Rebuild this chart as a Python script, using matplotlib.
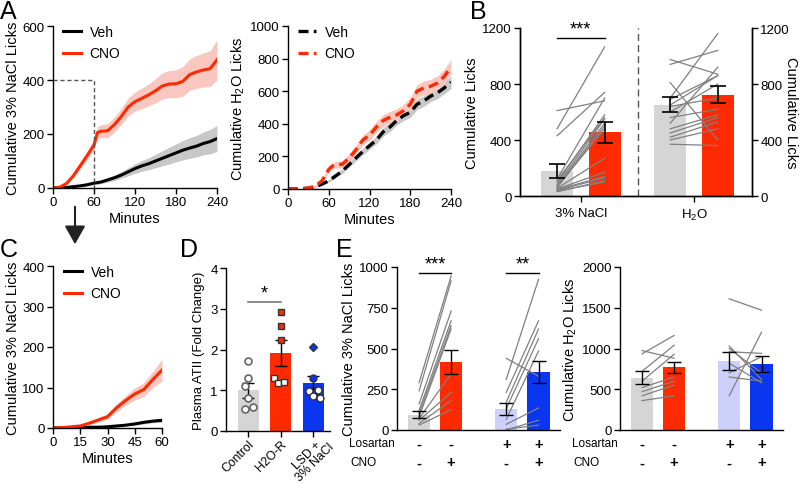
import matplotlib
matplotlib.use("Agg")
import matplotlib.pyplot as plt
import matplotlib.transforms as mtransforms
import numpy as np

plt.rcParams['font.family'] = ['Liberation Sans', 'DejaVu Sans']
plt.rcParams['mathtext.default'] = 'regular'
plt.rcParams['font.size'] = 9.5
plt.rcParams['axes.linewidth'] = 1.0
plt.rcParams['xtick.major.width'] = 1.0
plt.rcParams['ytick.major.width'] = 1.0
plt.rcParams['xtick.major.size'] = 4
plt.rcParams['ytick.major.size'] = 4

RED = '#FF2A00'
BLUE = '#0A36F2'
LBLUE = '#CDD0F8'
GRAY = '#D5D5D5'
LGRAY = '#808080'
TICK = 9.5
LAB = 10.5

# ---------------- data ----------------
# Panel A (cumulative licks, minutes)
t_a = [0, 10, 20, 30, 40, 50, 60, 65, 70, 80, 90, 100, 110, 120, 130, 140, 150,
       160, 170, 180, 190, 200, 210, 220, 230, 240]
nacl_cno = [0, 3, 17, 46, 83, 120, 160, 205, 210, 212, 235, 265, 300, 320, 332, 345,
            360, 378, 385, 386, 395, 420, 430, 437, 442, 475]
nacl_cno_sem = [0, 1, 4, 8, 11, 14, 18, 22, 24, 26, 28, 30, 33, 35, 38, 41, 45, 48,
                50, 52, 55, 58, 61, 63, 66, 75]
nacl_veh = [0, 0, 2, 5, 8, 12, 18, 20, 22, 30, 38, 48, 60, 72, 82, 90, 100, 110, 120,
            130, 140, 148, 155, 165, 172, 183]
nacl_veh_sem = [0, 0, 1, 2, 2, 3, 5, 6, 6, 8, 10, 12, 15, 18, 20, 22, 25, 28, 31, 33,
                36, 38, 40, 42, 45, 48]
h2o_cno = [0, 0, 2, 5, 18, 50, 120, 140, 148, 152, 190, 240, 300, 330, 380, 420, 440,
           455, 480, 520, 600, 620, 630, 650, 690, 750]
h2o_cno_sem = [0, 0, 1, 2, 5, 10, 18, 20, 20, 22, 25, 28, 30, 32, 34, 35, 36, 37, 38,
               40, 40, 42, 42, 44, 45, 45]
h2o_veh = [0, 0, 2, 5, 12, 30, 50, 65, 80, 110, 150, 190, 230, 265, 300, 350, 380, 420,
           450, 470, 520, 540, 570, 590, 620, 655]
h2o_veh_sem = [0, 0, 1, 2, 4, 6, 8, 10, 12, 14, 16, 18, 20, 22, 24, 26, 27, 28, 30, 31,
               32, 33, 34, 35, 36, 38]

# Panel B
b_means = {'nacl_veh': 178, 'nacl_cno': 457, 'h2o_veh': 652, 'h2o_cno': 724}
b_sem = {'nacl_veh': 48, 'nacl_cno': 75, 'h2o_veh': 52, 'h2o_cno': 60}
b_nacl_veh = [480, 610, 430, 120, 95, 80, 70, 60, 55, 50, 45, 40, 35, 30, 110, 65]
b_nacl_cno = [1065, 680, 740, 700, 580, 550, 520, 500, 270, 170, 140, 130, 100, 110, 560, 480]
b_h2o_veh = [975, 940, 700, 650, 600, 560, 480, 450, 420, 400, 370, 810, 520, 640, 690]
b_h2o_cno = [870, 1040, 1160, 860, 800, 620, 580, 560, 530, 480, 360, 400, 920, 700, 860]

# Panel C
t_c = [0, 5, 10, 15, 20, 25, 30, 35, 40, 45, 50, 55, 60]
c_cno = [0, 1, 3, 5, 12, 20, 28, 50, 68, 84, 95, 120, 143]
c_cno_sem = [0, 1, 1, 2, 3, 5, 7, 10, 12, 15, 17, 20, 27]
c_veh = [0, 0, 1, 1, 2, 2, 3, 5, 7, 10, 14, 17, 19]
c_veh_sem = [0, 0, 0, 0, 1, 1, 1, 1, 2, 3, 4, 4, 5]

# Panel D
d_groups = ['Control', 'H2O-R', 'LSD +\n3% NaCl']
d_means = [1.0, 1.91, 1.19]
d_sem = [0.18, 0.32, 0.17]
d_control = [1.72, 1.30, 1.10, 0.82, 0.58, 0.55]
d_h2or = [2.93, 2.58, 2.23, 1.31, 1.17, 1.21]
d_lsd = [2.06, 1.30, 1.01, 0.98, 0.85, 0.82]

# Panel E
e_nacl_means = [94, 418, 129, 355]
e_nacl_sem = [22, 72, 36, 66]
e_nacl_veh = [290, 240, 160, 120, 100, 80, 70, 60, 40, 30]
e_nacl_cno = [945, 915, 730, 670, 640, 620, 345, 230, 180, 125]
e_nacl_los_veh = [440, 310, 230, 170, 130, 65, 35, 5, 0]
e_nacl_los_cno = [330, 925, 670, 620, 560, 485, 135, 30, 60]
e_h2o_means = [640, 768, 850, 812]
e_h2o_sem = [78, 72, 110, 95]
e_h2o_veh = [975, 935, 720, 600, 520, 470, 420, 360]
e_h2o_cno = [880, 1160, 1040, 930, 650, 600, 550, 420]
e_h2o_los_veh = [1610, 1030, 1000, 960, 820, 650, 420, 700]
e_h2o_los_cno = [1470, 620, 700, 940, 580, 600, 1200, 900]
e_losartan = ['-', '-', '+', '+']
e_cno = ['-', '+', '-', '+']

# ---------------- figure ----------------
W, H = 800, 485
fig = plt.figure(figsize=(W / 100, H / 100), dpi=100)


def ax_px(l, t, r, b):
    return fig.add_axes([l / W, 1 - b / H, (r - l) / W, (b - t) / H])


def clean(ax, right=False):
    ax.spines['top'].set_visible(False)
    if not right:
        ax.spines['right'].set_visible(False)
    ax.tick_params(direction='out', length=4, pad=2, labelsize=TICK)


def panel_letter(x, y, s):
    fig.text(x / W, 1 - y / H, s, fontsize=18, va='top', ha='left')


def legend(ax, x0=0.02):
    ax.legend(loc='upper left', frameon=False, fontsize=10, handlelength=1.3,
              handletextpad=0.6, borderaxespad=0.1, bbox_to_anchor=(x0, 1.05),
              labelspacing=0.55)


# ---- Panel A left ----
axA1 = ax_px(53, 27, 217, 189)
clean(axA1)
ta = np.array(t_a)
for m, s, c, fc, lab in [(nacl_veh, nacl_veh_sem, 'black', '#C8C8C8', 'Veh'),
                         (nacl_cno, nacl_cno_sem, RED, '#F9C7C0', 'CNO')]:
    m = np.array(m); s = np.array(s)
    axA1.fill_between(ta, m - s, m + s, color=fc, lw=0)
    axA1.plot(ta, m, color=c, lw=2.2, label=lab)
axA1.plot([0, 60, 60], [400, 400, 0], ls=(0, (3, 2)), color='#555555', lw=1)
axA1.set_xlim(0, 240); axA1.set_ylim(0, 600)
axA1.set_xticks([0, 60, 120, 180, 240]); axA1.set_yticks([0, 200, 400, 600])
axA1.set_xlabel('Minutes', fontsize=LAB, labelpad=2)
axA1.set_ylabel('Cumulative 3% NaCl Licks', fontsize=LAB, labelpad=2)
legend(axA1)

# ---- Panel A right ----
axA2 = ax_px(288, 27, 451, 190)
clean(axA2)
for m, s, c, fc, lab in [(h2o_veh, h2o_veh_sem, 'black', '#C8C8C8', 'Veh'),
                         (h2o_cno, h2o_cno_sem, RED, '#F9C7C0', 'CNO')]:
    m = np.array(m); s = np.array(s)
    axA2.fill_between(ta, m - s, m + s, color=fc, lw=0)
    axA2.plot(ta, m, color=c, lw=2.4, ls=(0, (3, 1.6)), label=lab)
axA2.set_xlim(0, 240); axA2.set_ylim(0, 1000)
axA2.set_xticks([0, 60, 120, 180, 240]); axA2.set_yticks([0, 200, 400, 600, 800, 1000])
axA2.set_xlabel('Minutes', fontsize=LAB, labelpad=2)
axA2.set_ylabel('Cumulative H$_2$O Licks', fontsize=LAB, labelpad=2)
legend(axA2)

# ---- Panel B ----
axB = ax_px(520, 29, 752, 197)
axB.spines['top'].set_visible(False)
axB.tick_params(direction='out', length=4, pad=2, labelsize=TICK)
xb = [0.78, 1.78, 3.16, 4.16]
bw = 0.67
keys = ['nacl_veh', 'nacl_cno', 'h2o_veh', 'h2o_cno']
cols = [GRAY, RED, GRAY, RED]
axB.bar(xb, [b_means[k] for k in keys], width=bw, color=cols, zorder=1)
for a, b in zip(b_nacl_veh, b_nacl_cno):
    axB.plot([xb[0], xb[1]], [a, b], color=LGRAY, lw=0.9, zorder=2)
for a, b in zip(b_h2o_veh, b_h2o_cno):
    axB.plot([xb[2], xb[3]], [a, b], color=LGRAY, lw=0.9, zorder=2)
axB.errorbar(xb, [b_means[k] for k in keys], yerr=[b_sem[k] for k in keys], fmt='none',
             ecolor='black', elinewidth=1.2, capsize=6, capthick=1.2, zorder=3)
axB.axvline(2.48, color='#555555', lw=1, ls=(0, (5, 3)))
axB.plot([xb[0], xb[1]], [1130, 1130], color='black', lw=1)
axB.text((xb[0] + xb[1]) / 2, 1135, '***', ha='center', va='bottom', fontsize=13)
axB.set_xlim(0, 4.88); axB.set_ylim(0, 1200)
axB.set_yticks([0, 400, 800, 1200])
axB.set_xticks([1.28, 3.66]); axB.set_xticklabels(['3% NaCl', 'H$_2$O'])
axB.tick_params(axis='x', pad=4)
axB.set_ylabel('Cumulative Licks', fontsize=LAB, labelpad=2)
axB2 = axB.twinx()
axB2.set_ylim(0, 1200); axB2.set_yticks([0, 400, 800, 1200])
axB2.spines['top'].set_visible(False)
axB2.tick_params(direction='out', length=4, pad=2, labelsize=TICK)
fig.text(791 / W, 1 - 113 / H, 'Cumulative Licks', rotation=-90, ha='center',
         va='center', fontsize=LAB)

# ---- Panel C ----
axC = ax_px(53, 267, 162, 429)
clean(axC)
tc = np.array(t_c)
for m, s, c, fc, lab in [(c_veh, c_veh_sem, 'black', '#C8C8C8', 'Veh'),
                         (c_cno, c_cno_sem, RED, '#F9C7C0', 'CNO')]:
    m = np.array(m); s = np.array(s)
    axC.fill_between(tc, m - s, m + s, color=fc, lw=0)
    axC.plot(tc, m, color=c, lw=2.2, label=lab)
axC.set_xlim(0, 60); axC.set_ylim(0, 400)
axC.set_xticks([0, 15, 30, 45, 60]); axC.set_yticks([0, 100, 200, 300, 400])
axC.set_xlabel('Minutes', fontsize=LAB, labelpad=2)
axC.set_ylabel('Cumulative 3% NaCl Licks', fontsize=LAB, labelpad=2)
legend(axC, 0.04)

# ---- Panel D ----
axD = ax_px(226, 269, 330, 432)
clean(axD)
xd = [0.69, 1.69, 2.69]
axD.bar(xd, d_means, width=0.65, color=[GRAY, RED, BLUE], zorder=1)
axD.errorbar(xd, d_means, yerr=d_sem, fmt='none', ecolor='black', elinewidth=1,
             capsize=4, capthick=1, zorder=3)
offs2 = [0.0, 0.0, 0.0, -0.22, -0.1, 0.1]
for i, v in enumerate(d_control):
    axD.plot(xd[0] + [0, 0, -0.12, 0.0, 0.15, -0.12][i], v, 'o', ms=5, mfc='white',
             mec='#666666', mew=1.2, zorder=4)
for i, v in enumerate(d_h2or):
    filled = i < 3
    axD.plot(xd[1] + offs2[i], v, 's', ms=5, mfc=RED if filled else 'white',
             mec='#333333', mew=1.0, zorder=4)
for i, v in enumerate(d_lsd):
    filled = i < 2
    axD.plot(xd[2] + [0, 0, 0.15, -0.15, 0.0, 0.2][i], v,
             'D' if i == 0 else 'o', ms=4 if i == 0 else 5,
             mfc=BLUE if filled else 'white', mec='#333333', mew=1.0, zorder=4)
axD.plot([xd[0], xd[1]], [3.17, 3.17], color='#777777', lw=1.2)
axD.text((xd[0] + xd[1]) / 2, 3.18, '*', ha='center', va='bottom', fontsize=13)
axD.set_xlim(0, 3.2); axD.set_ylim(0, 4)
axD.set_yticks([0, 1, 2, 3, 4])
axD.set_xticks(xd)
axD.set_xticklabels(d_groups, rotation=45, ha='right', rotation_mode='anchor',
                    fontsize=8.8, linespacing=0.9, multialignment='center')
axD.tick_params(axis='x', pad=1)
lsd_lab = axD.get_xticklabels()[2]
lsd_lab.set_transform(lsd_lab.get_transform() +
                      mtransforms.ScaledTranslation(7 / 100, 5 / 100, fig.dpi_scale_trans))
axD.set_ylabel('Plasma ATII (Fold Change)', fontsize=9.5, labelpad=4)

# ---- Panel E ----
xe = [0.69, 1.69, 3.41, 4.42]
ecols = [GRAY, RED, LBLUE, BLUE]


def panel_e(ax, means, sems, pairs, ylim, yticks, ylabel, sig=None):
    clean(ax)
    ax.bar(xe, means, width=0.69, color=ecols, zorder=1)
    for (va, vb), (i, j) in zip(pairs, [(0, 1), (2, 3)]):
        for a, b in zip(va, vb):
            ax.plot([xe[i], xe[j]], [a, b], color=LGRAY, lw=0.9, zorder=2)
    ax.errorbar(xe, means, yerr=sems, fmt='none', ecolor='black', elinewidth=1,
                capsize=5, capthick=1, zorder=3)
    ax.set_xlim(0, 5.09); ax.set_ylim(*ylim)
    ax.set_yticks(yticks)
    ax.set_xticks([])
    ax.set_ylabel(ylabel, fontsize=LAB, labelpad=2)
    if sig:
        for (i, j), s in sig:
            yy = ylim[1] * 0.965
            ax.plot([xe[i], xe[j]], [yy, yy], color='black', lw=1)
            ax.text((xe[i] + xe[j]) / 2, yy, s, ha='center', va='bottom', fontsize=13)
    for k in range(4):
        ax.text(xe[k], -0.04, e_losartan[k], transform=ax.get_xaxis_transform(),
                ha='center', va='top', fontsize=10.5, fontweight='bold')
        ax.text(xe[k], -0.155, e_cno[k], transform=ax.get_xaxis_transform(),
                ha='center', va='top', fontsize=10.5, fontweight='bold')


axE1 = ax_px(397, 268, 560, 431)
panel_e(axE1, e_nacl_means, e_nacl_sem,
        [(e_nacl_veh, e_nacl_cno), (e_nacl_los_veh, e_nacl_los_cno)],
        (0, 1000), [0, 250, 500, 750, 1000], 'Cumulative 3% NaCl Licks',
        sig=[((0, 1), '***'), ((2, 3), '**')])
axE2 = ax_px(620, 268, 783, 431)
panel_e(axE2, e_h2o_means, e_h2o_sem,
        [(e_h2o_veh, e_h2o_cno), (e_h2o_los_veh, e_h2o_los_cno)],
        (0, 2000), [0, 500, 1000, 1500, 2000], 'Cumulative H$_2$O Licks')

for xr in (395, 618):
    fig.text(xr / W, 1 - 444 / H, 'Losartan', ha='right', va='center', fontsize=8.5)
    fig.text((xr - 45) / W, 1 - 463 / H, 'CNO', ha='left', va='center', fontsize=8.5)

# arrow from A to C
fig.add_artist(matplotlib.patches.FancyArrowPatch(
    (75 / W, 1 - 205 / H), (75 / W, 1 - 248 / H), transform=fig.transFigure,
    arrowstyle='-|>,head_length=0.8,head_width=0.45', mutation_scale=14,
    color='#222222', lw=1.5))

panel_letter(0, 0, 'A')
panel_letter(470, 0, 'B')
panel_letter(0, 238, 'C')
panel_letter(180, 238, 'D')
panel_letter(336, 238, 'E')

fig.savefig('out.png', dpi=100)
